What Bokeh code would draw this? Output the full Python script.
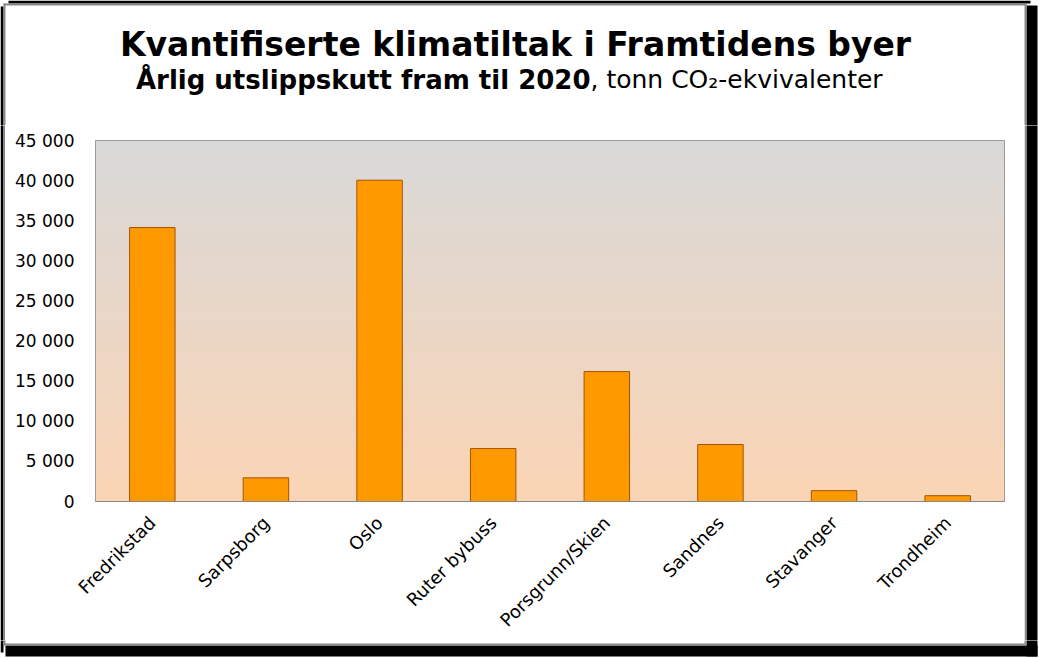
import numpy as np
from bokeh.plotting import figure
from bokeh.models import FactorRange, Range1d, FixedTicker
from bokeh.layouts import column, row
from bokeh.core.properties import value
from bokeh.embed import file_html
from bokeh.resources import INLINE

# ---- data ----
cities = ["Fredrikstad", "Sarpsborg", "Oslo", "Ruter bybuss",
          "Porsgrunn/Skien", "Sandnes", "Stavanger", "Trondheim"]
values = [34150, 2950, 40050, 6600, 16200, 7100, 1350, 720]
y_ticks = list(range(0, 45001, 5000))
y_tick_labels = {t: f"{t:,}".replace(",", " ") for t in y_ticks}
title_text = "Kvantifiserte klimatiltak i Framtidens byer"
subtitle_bold = "Årlig utslippskutt fram til 2020"
subtitle_rest = ", tonn CO₂-ekvivalenter"

# ---- layout (canvas pixels) ----
W, H = 1039, 658
TOP_H = 125          # title strip height
MID_Y0, MID_Y1 = TOP_H, 640
LEFT_W = 5
RIGHT_X0 = 1024
FL, FR, FT, FB = 95, 1004, 140, 501   # plot frame in canvas pixels
YMAX = y_ticks[-1]
GRID = "#878787"
BORDER = "#888888"
FONT = "DejaVu Sans"

# outer box: black shadow + gray border (left, right, top, bottom, colour)
bands = [
    (8, 1030, 0, 3, "black"),
    (0, 3, 6, 652, "black"),
    (1026, 1037, 5, 656, "black"),
    (5, 1037, 645, 656, "black"),
    (3, 1026, 3, 5, BORDER),
    (3, 5, 3, 645, BORDER),
    (1024, 1026, 3, 645, BORDER),
    (3, 1026, 643, 645, BORDER),
]


def no_align(f):
    if "frame_align" in f.properties():
        f.frame_align = False
    return f


def canvas_fig(x0, y0, w, h):
    f = figure(width=w, height=h, x_range=Range1d(x0, x0 + w),
               y_range=Range1d(y0 + h, y0), output_backend="svg",
               toolbar_location=None, min_border=0,
               x_axis_type=None, y_axis_type=None)
    f.outline_line_color = None
    f.border_fill_color = "white"
    f.background_fill_color = "white"
    for l, r, t, b, c in bands:
        f.quad(left=[l], right=[r], top=[t], bottom=[b],
               fill_color=c, line_color=None)
    return no_align(f)


# ---- title strip ----
top = canvas_fig(0, 0, W, TOP_H)
top.text(x=[515], y=[44], text=[title_text], text_align="center",
         text_baseline="alphabetic", text_font=value(FONT),
         text_font_style="bold", text_font_size="33px", text_color="black")
top.text(x=[590], y=[79], text=[subtitle_bold], text_align="right",
         text_baseline="alphabetic", text_font=value(FONT),
         text_font_style="bold", text_font_size="26px", text_color="black")
top.text(x=[590], y=[79], text=[subtitle_rest], text_align="left",
         text_baseline="alphabetic", text_font=value(FONT),
         text_font_style="normal", text_font_size="25px", text_color="black")

# ---- side and bottom strips ----
MH = MID_Y1 - MID_Y0
left = canvas_fig(0, MID_Y0, LEFT_W, MH)
right = canvas_fig(RIGHT_X0, MID_Y0, W - RIGHT_X0, MH)
bottom = canvas_fig(0, MID_Y1, W, H - MID_Y1)

# ---- main chart ----
MW = RIGHT_X0 - LEFT_W
p = figure(width=MW, height=MH,
           x_range=FactorRange(factors=cities, range_padding=0),
           y_range=Range1d(0, YMAX),
           output_backend="svg", toolbar_location=None,
           min_border_left=FL - LEFT_W, min_border_right=RIGHT_X0 - FR,
           min_border_top=FT - MID_Y0, min_border_bottom=MID_Y1 - FB)
no_align(p)
p.border_fill_color = "white"
p.background_fill_color = "white"
p.outline_line_color = GRID

# gradient background of plot area
n = 256
t = np.linspace(0, 1, n)[:, None]
c_bot = np.array([251, 213, 181], dtype=float)
c_top = np.array([217, 217, 217], dtype=float)
rgb = c_bot + (c_top - c_bot) * t
img = np.empty((n, 1), dtype=np.uint32)
view = img.view(dtype=np.uint8).reshape((n, 1, 4))
view[:, :, 0] = rgb[:, 0:1]
view[:, :, 1] = rgb[:, 1:2]
view[:, :, 2] = rgb[:, 2:3]
view[:, :, 3] = 255
p.image_rgba(image=[img], x=0, y=0, dw=len(cities), dh=YMAX)

# bars
p.vbar(x=cities, top=values, width=0.4, fill_color="#FF9900",
       line_color="#A65300", line_width=1)

# axes
p.yaxis.ticker = FixedTicker(ticks=y_ticks)
p.yaxis.major_label_overrides = y_tick_labels
p.yaxis.axis_line_color = None
p.yaxis.major_tick_line_color = None
p.yaxis.minor_tick_line_color = None
p.yaxis.major_label_standoff = 15
p.yaxis.major_label_text_font = FONT
p.yaxis.major_label_text_font_size = "17px"
p.yaxis.major_label_text_color = "black"

p.xaxis.axis_line_color = GRID
p.xaxis.major_tick_line_color = None
p.xaxis.minor_tick_line_color = None
p.xaxis.major_label_orientation = np.pi / 4
p.xaxis.major_label_standoff = 12
p.xaxis.major_label_text_font = FONT
p.xaxis.major_label_text_font_size = "18px"
p.xaxis.major_label_text_color = "black"

p.xgrid.grid_line_color = None
p.ygrid.grid_line_color = GRID
p.ygrid.grid_line_width = 1

layout = column(top, row(left, p, right, spacing=0), bottom, spacing=0)

open("out.html", "w").write(file_html(layout, INLINE))
